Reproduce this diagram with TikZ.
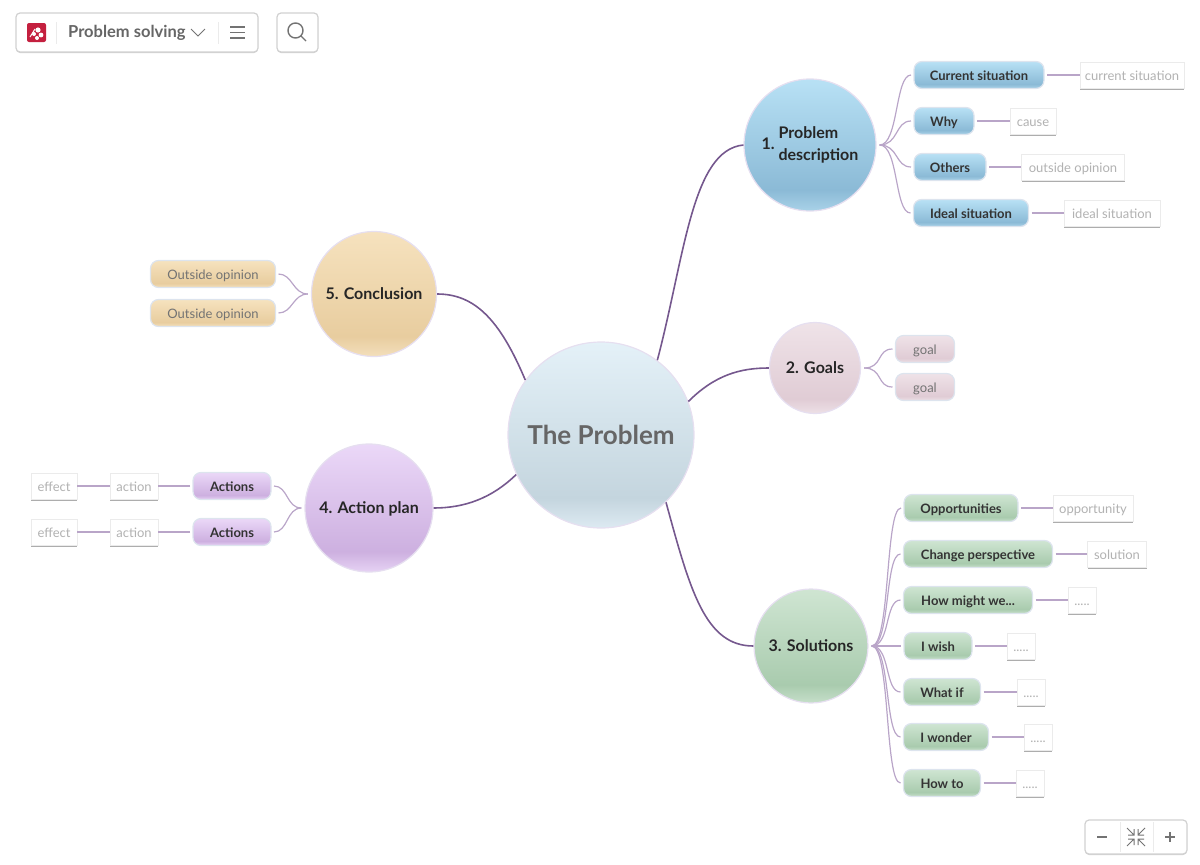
\documentclass[tikz,border=0pt]{standalone}
\usepackage{fontspec}
\setmainfont{Lato}
\usetikzlibrary{shadows}

\definecolor{branchcol}{HTML}{75588E}
\definecolor{twigcol}{HTML}{B9A5C8}
\definecolor{rimcol}{HTML}{E6DFF0}
\definecolor{pillrim}{HTML}{DDE4EE}
\definecolor{logocol}{HTML}{C4203F}

% colours run top, lower band, bottom rim
\newcommand{\mapshade}[4]{%
  \definecolor{#1t}{HTML}{#2}\definecolor{#1m}{HTML}{#3}\definecolor{#1b}{HTML}{#4}%
  \pgfdeclareverticalshading{#1}{100bp}{color(0bp)=(#1b); color(25bp)=(#1b);
    color(33bp)=(#1m); color(75bp)=(#1t); color(100bp)=(#1t)}}
\mapshade{rootshade}{E4F1F8}{C4D5DE}{DDEAF2}
\mapshade{blueshade}{B8E1F5}{8BBAD6}{A9D2E8}
\mapshade{pinkshade}{EFE3E8}{E0CCD5}{EDE0E6}
\mapshade{greenshade}{CFE5D2}{A9CBAE}{C6DFCA}
\mapshade{purpleshade}{EBD8F8}{CDB0E0}{E6D2F4}
\mapshade{sandshade}{F6E2BE}{E8CD9F}{F3DFBC}

\begin{document}
\begin{tikzpicture}[x=1pt,y=-1pt,
  topic/.style={circle, draw=rimcol, line width=1.2pt, inner sep=0pt,
                font=\fontsize{16}{22}\selectfont\bfseries, text=black!85},
  pill/.style={rectangle, rounded corners=8pt, draw=pillrim, line width=1.2pt, inner sep=0pt,
               minimum height=27, outer sep=3pt, text height=10.5pt, text depth=0pt,
               font=\fontsize{13}{15}\selectfont\bfseries, text=black!80},
  paler/.style={font=\fontsize{13}{15}\selectfont, text=black!55},
  leaf/.style={rectangle, draw=black!8, fill=white, minimum height=26, inner sep=0pt,
               text height=10.5pt, text depth=0pt,
               font=\fontsize{13}{15}\selectfont, text=black!30,
               drop shadow={shadow xshift=0pt, shadow yshift=-2pt, fill=black!40, opacity=0.8}},
  branch/.style={line width=1.6pt, color=branchcol},
  twig/.style={line width=1.2pt, color=twigcol},
  panel/.style={rectangle, rounded corners=4pt, draw=black!18, line width=1.2pt, fill=white,
                drop shadow={shadow xshift=0pt, shadow yshift=-1pt, fill=black!30, opacity=0.6}},
  icon/.style={line width=1.2pt, color=black!55},
  divider/.style={line width=0.6pt, color=black!8}
]
  \useasboundingbox (0,0) rectangle (1200,865);

  % topics
  \node[topic, shading=rootshade, minimum size=186, font=\fontsize{26}{31}\selectfont\bfseries, text=black!60] (root) at (601,435) {The Problem};
  \node[topic, shading=blueshade, minimum size=132] (c1) at (810,145)
    {1.\ \begin{tabular}{@{}l@{}}Problem\\description\end{tabular}};
  \node[topic, shading=pinkshade, minimum size=91] (c2) at (815,368) {2. Goals};
  \node[topic, shading=greenshade, minimum size=114] (c3) at (811,646) {3. Solutions};
  \node[topic, shading=purpleshade, minimum size=128, text depth=0pt] (c4) at (369,508) {4. Action plan};
  \node[topic, shading=sandshade, minimum size=125] (c5) at (374,294) {5. Conclusion};

  \draw[branch] (root.53) .. controls (685,255) and (692,150) .. (c1.west);
  \draw[branch] (root.21) .. controls (715,375) and (740,368) .. (c2.west);
  \draw[branch] (root.-46) .. controls (690,590) and (705,646) .. (c3.west);
  \draw[branch] (root.205) .. controls (492,498) and (465,508) .. (c4.east);
  \draw[branch] (root.144) .. controls (500,320) and (475,294) .. (c5.east);

  % 1. problem description
  \node[pill, shading=blueshade, minimum width=130] (p11) at (979,75) {Current situation};
  \node[pill, shading=blueshade, minimum width=60] (p12) at (944,121) {Why};
  \node[pill, shading=blueshade, minimum width=72] (p13) at (950,167) {Others};
  \node[pill, shading=blueshade, minimum width=115] (p14) at (971,213) {Ideal situation};
  \node[leaf, minimum width=104] (l11) at (1132,75) {current situation};
  \node[leaf, minimum width=46] (l12) at (1033,121) {cause};
  \node[leaf, minimum width=103] (l13) at (1073,167) {outside opinion};
  \node[leaf, minimum width=96] (l14) at (1112,213) {ideal situation};

  % 2. goals
  \node[pill, paler, shading=pinkshade, minimum width=59] (p21) at (925,349) {goal};
  \node[pill, paler, shading=pinkshade, minimum width=59] (p22) at (925,387) {goal};

  % 3. solutions
  \node[pill, shading=greenshade, minimum width=114] (p31) at (961,508) {Opportunities};
  \node[pill, shading=greenshade, minimum width=149] (p32) at (978,554) {Change perspective};
  \node[pill, shading=greenshade, minimum width=129] (p33) at (968,600) {How might we...};
  \node[pill, shading=greenshade, minimum width=68] (p34) at (938,646) {I wish};
  \node[pill, shading=greenshade, minimum width=77] (p35) at (942,692) {What if};
  \node[pill, shading=greenshade, minimum width=85] (p36) at (946,737) {I wonder};
  \node[pill, shading=greenshade, minimum width=77] (p37) at (942,783) {How to};
  \node[leaf, minimum width=80] (l31) at (1093,508) {opportunity};
  \node[leaf, minimum width=59] (l32) at (1117,554) {solution};
  \node[leaf, minimum width=28] (l33) at (1082,600) {.....};
  \node[leaf, minimum width=28] (l34) at (1021,646) {.....};
  \node[leaf, minimum width=28] (l35) at (1031,692) {.....};
  \node[leaf, minimum width=28] (l36) at (1038,737) {.....};
  \node[leaf, minimum width=28] (l37) at (1030,783) {.....};

  % 4. action plan
  \node[pill, shading=purpleshade, minimum width=78] (p41) at (232,486) {Actions};
  \node[pill, shading=purpleshade, minimum width=78] (p42) at (232,532) {Actions};
  \node[leaf, minimum width=48] (a41) at (134,486) {action};
  \node[leaf, minimum width=48] (a42) at (134,532) {action};
  \node[leaf, minimum width=46] (e41) at (54,486) {effect};
  \node[leaf, minimum width=46] (e42) at (54,532) {effect};

  % 5. conclusion
  \node[pill, paler, shading=sandshade, minimum width=125] (p51) at (213,274) {Outside opinion};
  \node[pill, paler, shading=sandshade, minimum width=125] (p52) at (213,313) {Outside opinion};

  \foreach \c/\plist in {c1/{p11,p12,p13,p14},c2/{p21,p22},c3/{p31,p32,p33,p34,p35,p36,p37}} {
    \foreach \p in \plist {
      \draw[twig, shorten <=3pt] (\c.east) .. controls +(22,0) and +(-16,0) .. (\p.west);
    }
  }
  \foreach \c/\plist in {c4/{p41,p42},c5/{p51,p52}} {
    \foreach \p in \plist {
      \draw[twig, shorten <=3pt] (\c.west) .. controls +(-18,0) and +(14,0) .. (\p.east);
    }
  }
  \foreach \a/\b in {p11/l11,p12/l12,p13/l13,p14/l14,p31/l31,p32/l32,p33/l33,p34/l34,p35/l35,p36/l36,p37/l37} {
    \draw[twig] (\a.east) -- (\b.west);
  }
  \foreach \a/\b in {p41/a41,p42/a42,a41/e41,a42/e42} {
    \draw[twig] (\a.west) -- (\b.east);
  }

  % toolbar
  \node[panel, minimum width=242, minimum height=39] (bar) at (137,32.5) {};
  \node[panel, minimum width=41, minimum height=39] (find) at (297.5,32.5) {};
  \node[panel, minimum width=102, minimum height=34] (zoombar) at (1136,837) {};
  \node[rectangle, rounded corners=2pt, fill=logocol, minimum size=19, inner sep=0pt] (logo) at (36.5,32.5) {};
  \fill[white] (34,34) circle (2) (38,30) circle (2.6) (41,35) circle (2.4) (37,38) circle (2);
  \draw[white, line width=1pt] (30,37) -- (35,29);
  \node[font=\fontsize{16.5}{18}\selectfont\bfseries, text=black!60, anchor=west, inner sep=0pt] (title) at (68,33) {Problem solving};
  \draw[divider] (56,22) -- (56,44) (218,22) -- (218,44);
  \draw[icon, line width=0.9pt] (191,29) -- (198,36) -- (205,29);
  \draw[icon] (230,27) -- (245,27) (230,32.5) -- (245,32.5) (230,38) -- (245,38);
  \draw[icon, line width=1.4pt] (295.5,30.5) circle (7.5) (301,36) -- (306,41);

  % zoom controls
  \draw[divider] (1120,822) -- (1120,852) (1153,822) -- (1153,852);
  \draw[icon, line width=1.6pt] (1097,837) -- (1107,837) (1165,837) -- (1175,837) (1170,832) -- (1170,842);
  \foreach \sx/\sy in {1/1,-1/1,1/-1,-1/-1} {
    \draw[icon, line width=1pt] (1136+2*\sx,837+2*\sy) -- (1136+9*\sx,837+9*\sy)
      (1136+2*\sx,837+8*\sy) -- (1136+2*\sx,837+2*\sy) -- (1136+8*\sx,837+2*\sy);
  }
\end{tikzpicture}
\end{document}
